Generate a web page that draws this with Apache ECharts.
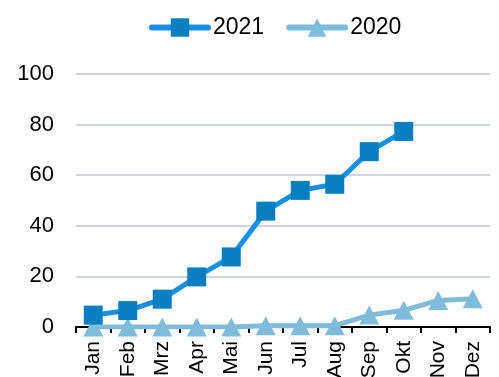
<!DOCTYPE html>
<html><head><meta charset="utf-8">
<script src="https://cdn.jsdelivr.net/npm/echarts@6/dist/echarts.min.js"></script>
<style>html,body{margin:0;padding:0;background:#fff}#c{width:499px;height:377px}</style>
</head><body><div id="c"></div>
<script>
const months = ['Jan','Feb','Mrz','Apr','Mai','Jun','Jul','Aug','Sep','Okt','Nov','Dez'];
const values2021 = [4.7, 6.5, 11, 19.8, 27.7, 45.8, 54, 56.4, 69.3, 77.3, null, null];
const values2020 = [0, 0, 0, 0, 0, 0.5, 0.5, 0.5, 4.7, 6.6, 10.5, 11.2];
const yTicks = [0, 20, 40, 60, 80, 100];

const chart = echarts.init(document.getElementById('c'), null, {renderer:'canvas'});
chart.setOption({
  animation:false,
  textStyle:{fontFamily:'Liberation Sans, Arial, sans-serif'},
  legend:{
    top:11, left:144, itemWidth:56, itemHeight:23, itemGap:22,
    textStyle:{fontSize:23, color:'#000', fontFamily:'Liberation Sans'},
    lineStyle:{width:6, cap:'round'},
    data:['2021','2020']
  },
  grid:{left:76, right:9, top:74, bottom:50, containLabel:false, outerBoundsMode:'none'},
  xAxis:{
    type:'category', data:months, boundaryGap:true,
    axisLine:{lineStyle:{color:'#000', width:2}},
    axisTick:{show:true, length:6, lineStyle:{color:'#000', width:2}},
    axisLabel:{rotate:90, fontSize:21, color:'#000', margin:14, fontFamily:'Liberation Sans'}
  },
  yAxis:{
    type:'value', min:yTicks[0], max:yTicks[yTicks.length-1], interval:20,
    axisLine:{show:false}, axisTick:{show:false},
    axisLabel:{fontSize:22, color:'#000', margin:22, fontFamily:'Liberation Sans'},
    splitLine:{lineStyle:{color:'#d0d3e2', width:2}}
  },
  series:[
    {name:'2021', type:'line', data:values2021, symbol:'rect', symbolSize:19,
     lineStyle:{color:'#168fe6', width:5}, itemStyle:{color:'#0a7fc0'}, z:3},
    {name:'2020', type:'line', data:values2020, symbol:'triangle', symbolSize:[20,19],
     lineStyle:{color:'#7fbcdc', width:5}, itemStyle:{color:'#7fbcdc'}, z:2}
  ]
});
</script></body></html>
